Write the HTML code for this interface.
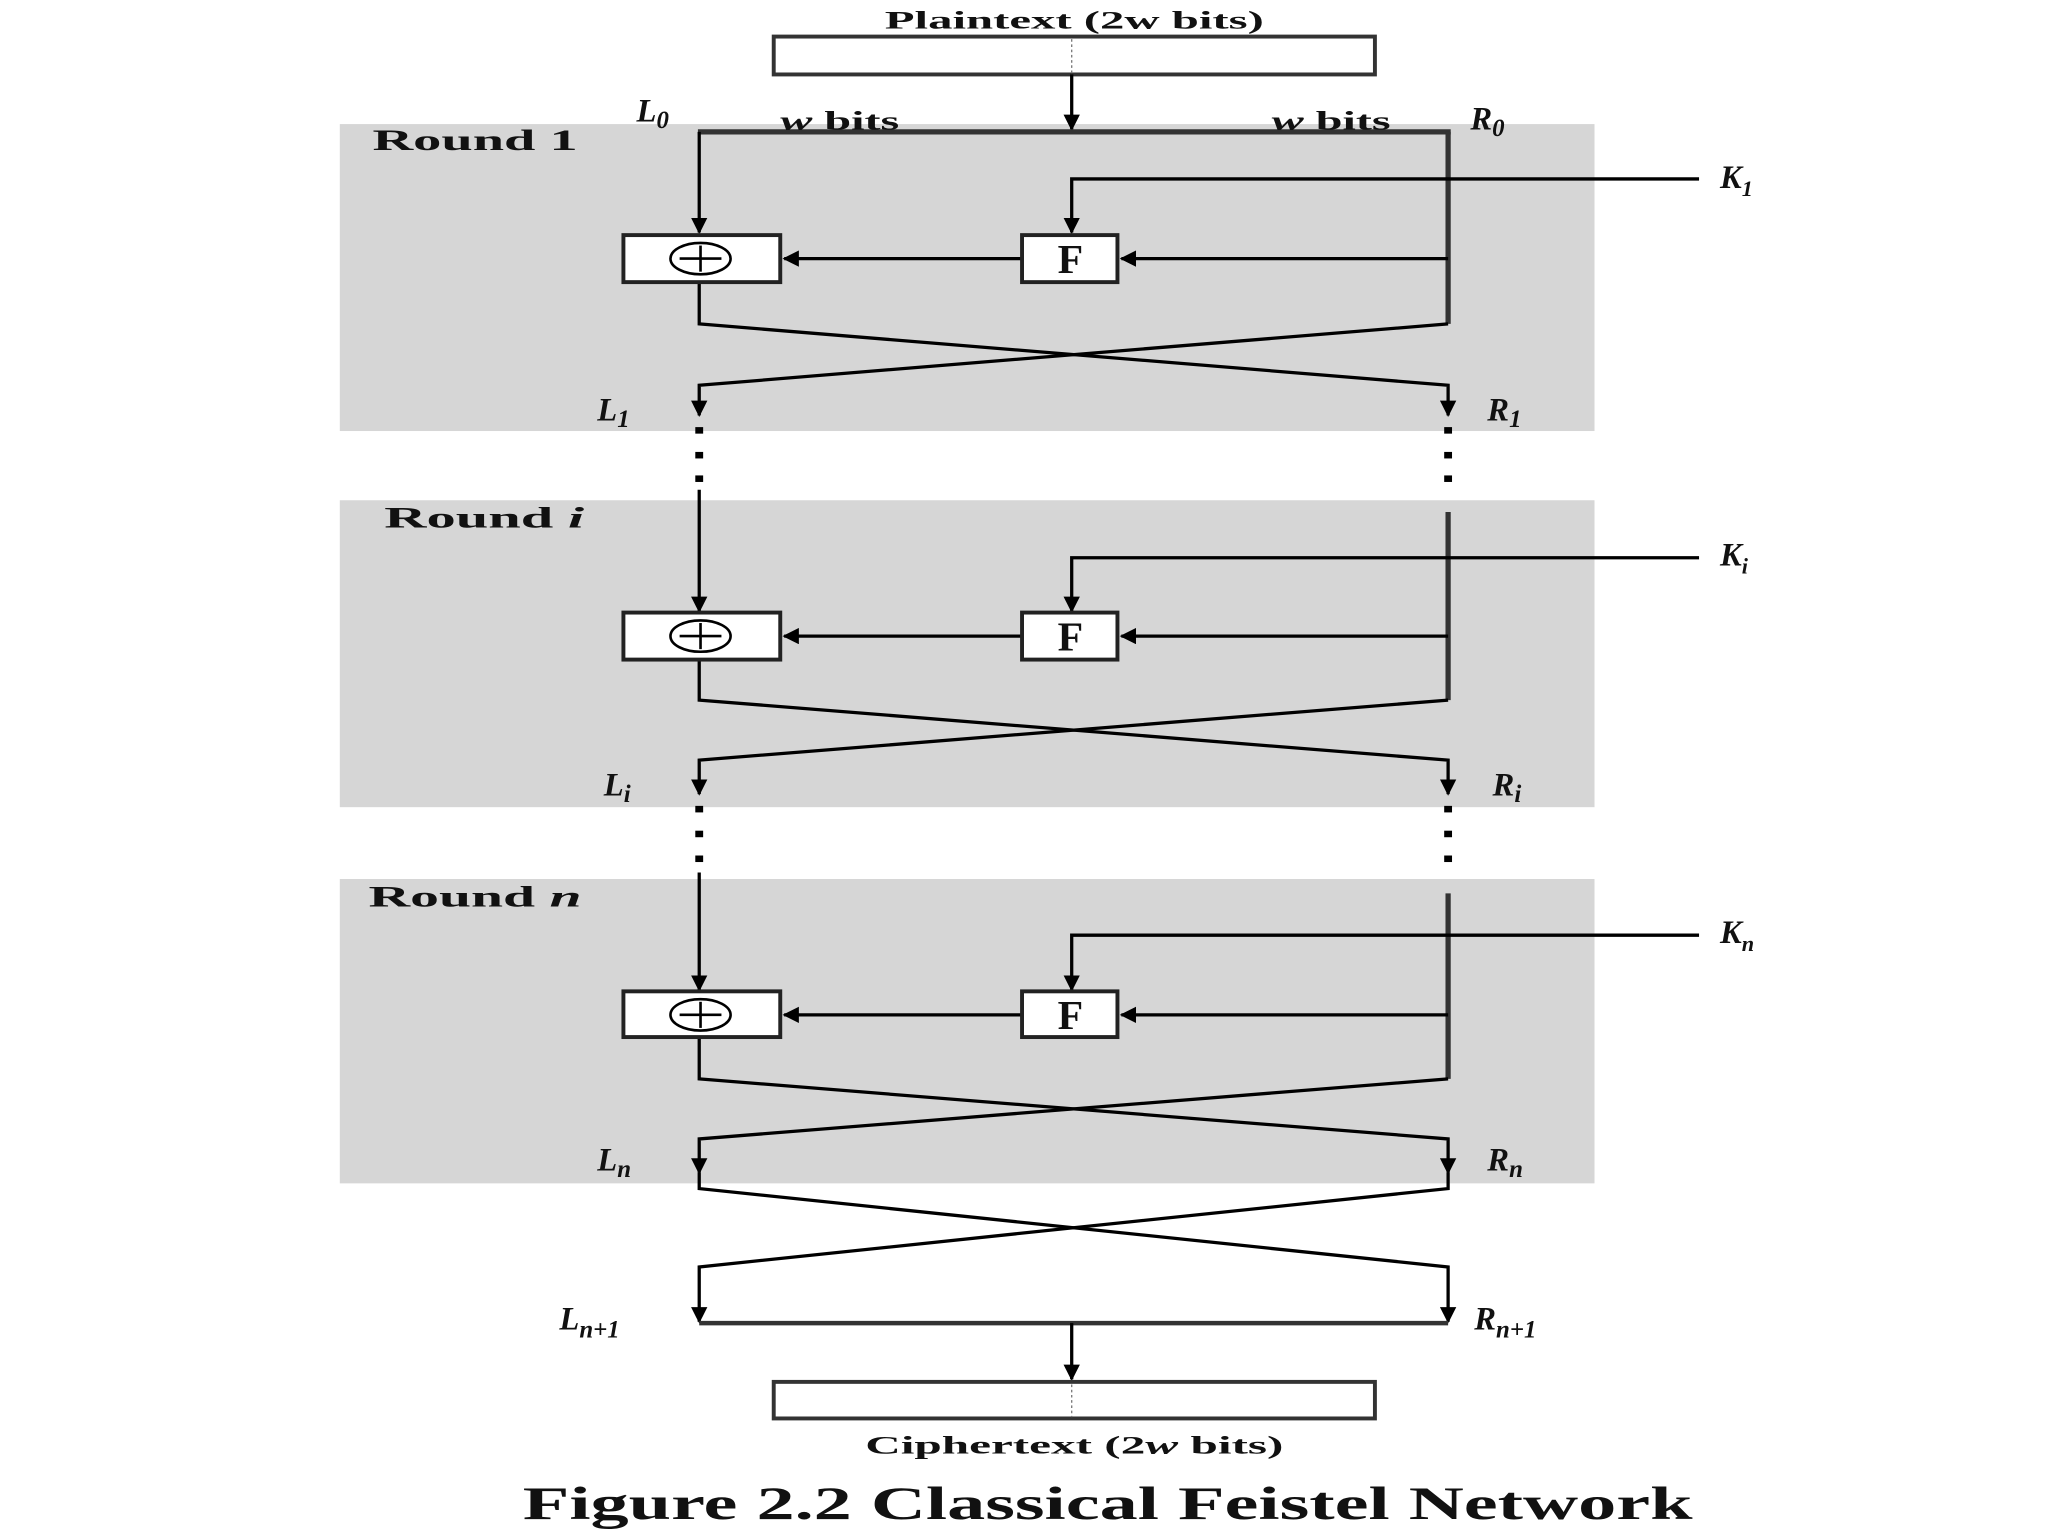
<!DOCTYPE html>
<html><head><meta charset="utf-8"><style>
html,body{margin:0;padding:0;background:#fff;}
svg{display:block;}
text{font-family:"Liberation Serif",serif;font-weight:bold;fill:#111;}
.it{font-style:italic;}
</style></head><body>
<svg width="2048" height="1536" viewBox="0 0 1567 1176" preserveAspectRatio="none" xmlns="http://www.w3.org/2000/svg">
<defs>
<marker id="a" viewBox="0 0 10 10" refX="9" refY="5" markerWidth="5" markerHeight="5" orient="auto"><path d="M0,0L10,5L0,10z" fill="#000"/></marker>
</defs>
<rect width="1567" height="1176" fill="#fff"/>
<rect x="260" y="95" width="960" height="235" fill="#d6d6d6"/>
<rect x="260" y="383" width="960" height="235" fill="#d6d6d6"/>
<rect x="260" y="673" width="960" height="233" fill="#d6d6d6"/>

<text x="677" y="22" font-size="19" textLength="290" lengthAdjust="spacingAndGlyphs">Plaintext (2w bits)</text>
<rect x="592" y="28" width="460" height="29" fill="#fff" stroke="#333" stroke-width="3"/>
<line x1="820" y1="30" x2="820" y2="56" stroke="#777" stroke-width="1" stroke-dasharray="2,2"/>
<line x1="820" y1="57" x2="820" y2="99" stroke="#000" stroke-width="2.5" marker-end="url(#a)"/>
<line x1="534" y1="101" x2="1110" y2="101" stroke="#333" stroke-width="4"/>
<text x="487" y="93" font-size="25" class="it">L<tspan font-size="19" dy="5">0</tspan></text>
<text x="597" y="99" font-size="20" textLength="91" lengthAdjust="spacingAndGlyphs"><tspan class="it">w</tspan> bits</text>
<text x="973" y="99" font-size="20" textLength="91" lengthAdjust="spacingAndGlyphs"><tspan class="it">w</tspan> bits</text>
<text x="1125" y="99" font-size="25" class="it">R<tspan font-size="19" dy="5">0</tspan></text>

<text x="285" y="115" font-size="23" textLength="157" lengthAdjust="spacingAndGlyphs">Round 1</text>
<text x="1316" y="144" font-size="25" class="it">K<tspan font-size="17" dy="6">1</tspan></text>
<text x="457" y="322" font-size="25" class="it">L<tspan font-size="19" dy="5">1</tspan></text>
<text x="1138" y="322" font-size="25" class="it">R<tspan font-size="19" dy="5">1</tspan></text>
<text x="294" y="404" font-size="23" textLength="153" lengthAdjust="spacingAndGlyphs">Round <tspan class="it">i</tspan></text>
<text x="1316" y="433" font-size="25" class="it">K<tspan font-size="17" dy="6">i</tspan></text>
<text x="462" y="609" font-size="25" class="it">L<tspan font-size="19" dy="5">i</tspan></text>
<text x="1142" y="609" font-size="25" class="it">R<tspan font-size="19" dy="5">i</tspan></text>
<text x="282" y="694" font-size="23" textLength="163" lengthAdjust="spacingAndGlyphs">Round <tspan class="it">n</tspan></text>
<text x="1316" y="722" font-size="25" class="it">K<tspan font-size="17" dy="6">n</tspan></text>
<text x="457" y="896" font-size="25" class="it">L<tspan font-size="19" dy="5">n</tspan></text>
<text x="1138" y="896" font-size="25" class="it">R<tspan font-size="19" dy="5">n</tspan></text>

<g stroke="#000" stroke-width="2.5" fill="none">
<line x1="535" y1="101" x2="535" y2="178" marker-end="url(#a)"/>
<line x1="1108" y1="101" x2="1108" y2="248" stroke="#333" stroke-width="4"/>
<polyline points="1300,137 820,137 820,178" marker-end="url(#a)"/>
<line x1="1108" y1="198" x2="858" y2="198" marker-end="url(#a)"/>
<line x1="782" y1="198" x2="600" y2="198" marker-end="url(#a)"/>
<polyline points="535,216 535,248 1108,295 1108,318" marker-end="url(#a)"/>
<polyline points="1108,248 535,295 535,318" marker-end="url(#a)"/>
<line x1="535" y1="375" x2="535" y2="468" marker-end="url(#a)"/>
<line x1="1108" y1="392" x2="1108" y2="536" stroke="#333" stroke-width="4"/>
<polyline points="1300,427 820,427 820,468" marker-end="url(#a)"/>
<line x1="1108" y1="487" x2="858" y2="487" marker-end="url(#a)"/>
<line x1="782" y1="487" x2="600" y2="487" marker-end="url(#a)"/>
<polyline points="535,505 535,536 1108,582 1108,608" marker-end="url(#a)"/>
<polyline points="1108,536 535,582 535,608" marker-end="url(#a)"/>
<line x1="535" y1="668" x2="535" y2="758" marker-end="url(#a)"/>
<line x1="1108" y1="684" x2="1108" y2="826" stroke="#333" stroke-width="4"/>
<polyline points="1300,716 820,716 820,758" marker-end="url(#a)"/>
<line x1="1108" y1="777" x2="858" y2="777" marker-end="url(#a)"/>
<line x1="782" y1="777" x2="600" y2="777" marker-end="url(#a)"/>
<polyline points="535,794 535,826 1108,872 1108,898" marker-end="url(#a)"/>
<polyline points="1108,826 535,872 535,898" marker-end="url(#a)"/>
<polyline points="535,898 535,910 1108,970 1108,1012" marker-end="url(#a)"/>
<polyline points="1108,898 1108,910 535,970 535,1012" marker-end="url(#a)"/>
<line x1="535" y1="1013" x2="1108" y2="1013" stroke="#333" stroke-width="3.5"/>
<line x1="820" y1="1013" x2="820" y2="1056" marker-end="url(#a)"/>
</g>

<g fill="#000">
<rect x="532" y="327" width="6" height="5"/><rect x="532" y="346" width="6" height="5"/><rect x="532" y="364" width="6" height="5"/>
<rect x="1105" y="327" width="6" height="5"/><rect x="1105" y="346" width="6" height="5"/><rect x="1105" y="364" width="6" height="5"/>
<rect x="532" y="617" width="6" height="5"/><rect x="532" y="636" width="6" height="5"/><rect x="532" y="655" width="6" height="5"/>
<rect x="1105" y="617" width="6" height="5"/><rect x="1105" y="636" width="6" height="5"/><rect x="1105" y="655" width="6" height="5"/>
</g>

<g stroke="#222" stroke-width="3" fill="#fff">
<rect x="477" y="180" width="120" height="36"/><rect x="782" y="180" width="73" height="36"/>
<rect x="477" y="469" width="120" height="36"/><rect x="782" y="469" width="73" height="36"/>
<rect x="477" y="759" width="120" height="35"/><rect x="782" y="759" width="73" height="35"/>
</g>
<g stroke="#000" stroke-width="2" fill="none">
<ellipse cx="536" cy="198" rx="23" ry="12"/><line x1="520" y1="198" x2="552" y2="198"/><line x1="536" y1="188" x2="536" y2="208"/>
<ellipse cx="536" cy="487" rx="23" ry="12"/><line x1="520" y1="487" x2="552" y2="487"/><line x1="536" y1="477" x2="536" y2="497"/>
<ellipse cx="536" cy="777" rx="23" ry="12"/><line x1="520" y1="777" x2="552" y2="777"/><line x1="536" y1="767" x2="536" y2="787"/>
</g>
<text x="819" y="209" font-size="32" text-anchor="middle">F</text>
<text x="819" y="498" font-size="32" text-anchor="middle">F</text>
<text x="819" y="788" font-size="32" text-anchor="middle">F</text>

<text x="428" y="1018" font-size="25" class="it">L<tspan font-size="19" dy="6">n+1</tspan></text>
<text x="1128" y="1018" font-size="25" class="it">R<tspan font-size="19" dy="6">n+1</tspan></text>

<rect x="592" y="1058" width="460" height="28" fill="#fff" stroke="#333" stroke-width="3"/>
<line x1="820" y1="1060" x2="820" y2="1085" stroke="#777" stroke-width="1" stroke-dasharray="2,2"/>
<text x="662" y="1113" font-size="19" textLength="320" lengthAdjust="spacingAndGlyphs">Ciphertext (2<tspan class="it">w</tspan> bits)</text>
<text x="400" y="1163" font-size="36" textLength="895" lengthAdjust="spacingAndGlyphs">Figure 2.2  Classical Feistel Network</text>
</svg>
</body></html>
